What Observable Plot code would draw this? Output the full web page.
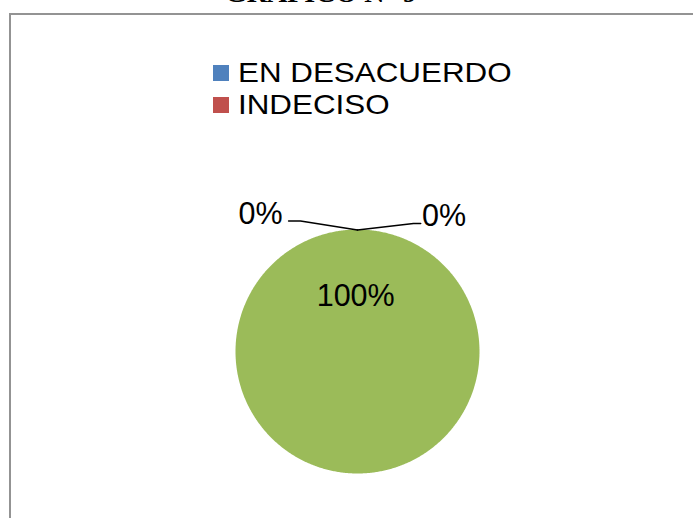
<!DOCTYPE html>
<html><head><meta charset="utf-8">
<script src="https://cdn.jsdelivr.net/npm/d3@7"></script>
<script src="https://cdn.jsdelivr.net/npm/@observablehq/plot@0.6"></script>
<style>
body{margin:0;background:#fff;}
#wrap{position:relative;width:693px;height:518px;overflow:hidden;background:#fff;}
#frame{position:absolute;left:9px;top:13px;width:720px;height:560px;border-top:2px solid #939393;border-left:2px solid #939393;box-sizing:border-box;}
#title{position:absolute;left:225px;top:-21px;font-family:"Liberation Serif","Times New Roman",serif;font-weight:bold;font-size:28px;line-height:28px;white-space:nowrap;color:#000;}
.lg{position:absolute;font-family:"Liberation Sans",Arial,sans-serif;font-size:28px;line-height:32px;white-space:nowrap;color:#000;transform-origin:0 0;transform:scaleX(1.12);}
.sw{position:absolute;width:16px;height:16px;}
#chart{position:absolute;left:0;top:0;}
</style></head><body><div id="wrap"><div id="frame"></div><div id="title"></div><div id="chart"></div></div>
<script>
const title = "GRÁFICO N° 9";
const categories = ["EN DESACUERDO", "INDECISO", "DE ACUERDO"];
const values = [0, 0, 100];
const colors = ["#4F81BD", "#C0504D", "#9BBB59"];
const percentLabels = ["0%", "0%", "100%"];
const legendItems = ["EN DESACUERDO", "INDECISO"];

const data = categories.map((c, i) => ({category: c, value: values[i], label: percentLabels[i]}));

document.getElementById("title").textContent = title;

// legend
const wrap = document.getElementById("wrap");
legendItems.forEach((name, i) => {
  const sw = document.createElement("div");
  sw.className = "sw";
  sw.style.left = "213px";
  sw.style.top = (65 + i * 32) + "px";
  sw.style.background = colors[categories.indexOf(name)];
  wrap.appendChild(sw);
  const t = document.createElement("div");
  t.className = "lg";
  t.style.left = "238px";
  t.style.top = (57.3 + i * 32) + "px";
  t.textContent = name;
  wrap.appendChild(t);
});

// pie slices as polygons (geometry from d3.pie angles)
const arcs = d3.pie().sort(null).value(d => d.value)(data);
const polys = [];
arcs.forEach(a => {
  const span = a.endAngle - a.startAngle;
  if (span <= 0) return;
  const full = span >= 2 * Math.PI - 1e-9;
  const n = Math.max(2, Math.ceil(span / (Math.PI / 360)));
  if (!full) polys.push({category: a.data.category, x: 0, y: 0});
  for (let k = 0; k <= (full ? n - 1 : n); k++) {
    const t = a.startAngle + span * k / n;
    polys.push({category: a.data.category, x: Math.sin(t), y: Math.cos(t)});
  }
});

// label layout (pie units)
const labelPos = [
  {x: -0.795, y: 1.13},
  {x: 0.71, y: 1.12},
  {x: -0.015, y: 0.46}
];
const labelData = data.map((d, i) => ({...d, lx: labelPos[i].x, ly: labelPos[i].y}));
const leaders = [
  {id: 0, x: 0, y: 0.995}, {id: 0, x: -0.467, y: 1.07}, {id: 0, x: -0.565, y: 1.07},
  {id: 1, x: 0, y: 0.995}, {id: 1, x: 0.459, y: 1.05}, {id: 1, x: 0.518, y: 1.05}
];

const plot = Plot.plot({
  width: 693,
  height: 518,
  margin: 0,
  style: {background: "none", overflow: "visible"},
  x: {domain: [-1, 1], range: [235, 479], axis: null},
  y: {domain: [-1, 1], range: [473, 229], axis: null},
  color: {domain: categories, range: colors},
  marks: [
    Plot.line(polys, {x: "x", y: "y", z: "category", fill: "category", stroke: null, curve: "linear-closed"}),
    Plot.line(leaders, {x: "x", y: "y", z: "id", stroke: "#000", strokeWidth: 1.5}),
    Plot.text(labelData, {x: "lx", y: "ly", text: "label", fontSize: 30.5, fill: "#000",
      fontFamily: "Liberation Sans, Arial, sans-serif", textAnchor: "middle", dy: 1})
  ]
});
document.getElementById("chart").appendChild(plot);
</script>
</body></html>
